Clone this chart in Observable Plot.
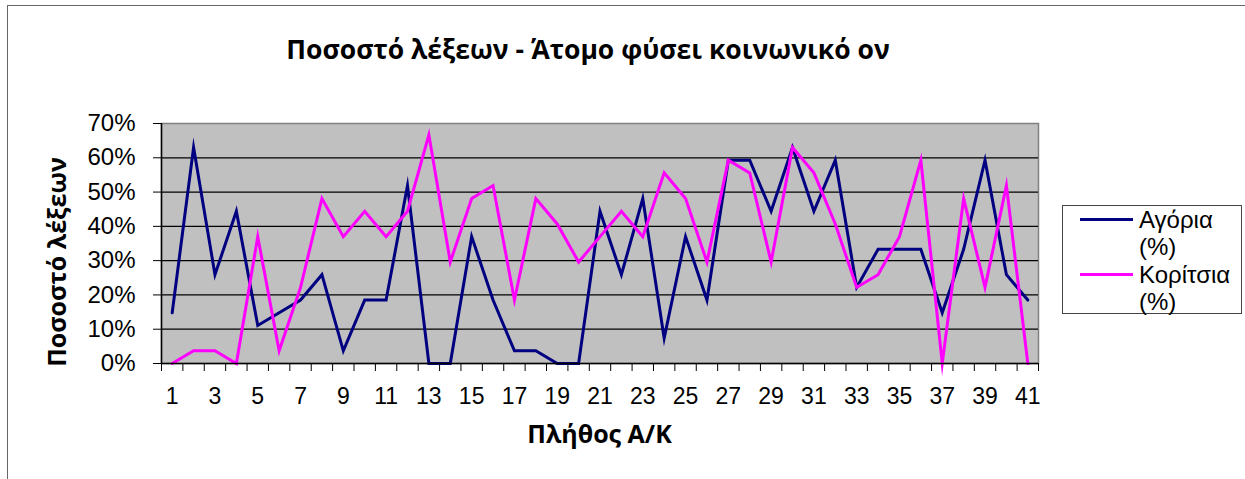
<!DOCTYPE html>
<html>
<head>
<meta charset="utf-8">
<script src="https://cdn.jsdelivr.net/npm/d3@7"></script>
<script src="https://cdn.jsdelivr.net/npm/@observablehq/plot@0.6"></script>
<style>
  html, body { margin: 0; padding: 0; background: #fff; }
  body { width: 1245px; height: 479px; position: relative; overflow: hidden; font-family: "Liberation Sans", Arial, sans-serif; }
  #border { position: absolute; left: 7px; top: 5px; width: 1300px; height: 600px; border-left: 1px solid #666; border-top: 1px solid #666; }
  #chart { position: absolute; left: 0; top: 0; }
  .title { position: absolute; font-family: "Open Sans", "Liberation Sans", sans-serif; font-weight: bold; white-space: nowrap; color: #000; }
  #title { left: 0; width: 1176px; text-align: center; top: 36px; font-size: 26.5px; line-height: 26.5px; }
  #xlabel { left: 161px; width: 877px; text-align: center; top: 421px; font-size: 25px; line-height: 25px; }
  #ylabel { left: 56px; top: 262px; font-size: 25px; line-height: 25px; transform: translate(-50%, -50%) rotate(-90deg); }
  #legend { position: absolute; left: 1062px; top: 205px; width: 180px; height: 109px; border: 1px solid #444; box-sizing: border-box; font-size: 24px; }
  .lg { position: absolute; left: 76px; line-height: 27px; white-space: nowrap; }
  .sw { position: absolute; left: 17px; width: 53px; height: 3px; }
</style>
</head>
<body>
<div id="border"></div>
<div id="chart"></div>
<div id="title" class="title">Ποσοστό λέξεων - Άτομο φύσει κοινωνικό ον</div>
<div id="xlabel" class="title">Πλήθος Α/Κ</div>
<div id="ylabel" class="title">Ποσοστό λέξεων</div>
<div id="legend"></div>
<script>
const categories = [1,2,3,4,5,6,7,8,9,10,11,12,13,14,15,16,17,18,19,20,21,22,23,24,25,26,27,28,29,30,31,32,33,34,35,36,37,38,39,40,41];
const boys = [14.8, 63.0, 25.9, 44.4, 11.1, 14.8, 18.5, 25.9, 3.7, 18.5, 18.5, 51.9, 0, 0, 37.0, 18.5, 3.7, 3.7, 0, 0, 44.4, 25.9, 48.1, 7.4, 37.0, 18.5, 59.3, 59.3, 44.4, 63.0, 44.4, 59.3, 22.2, 33.3, 33.3, 33.3, 14.8, 33.3, 59.3, 25.9, 18.5];
const girls = [0, 3.7, 3.7, 0, 37.0, 3.7, 22.2, 48.1, 37.0, 44.4, 37.0, 44.4, 66.7, 29.6, 48.1, 51.9, 18.5, 48.1, 40.7, 29.6, 37.0, 44.4, 37.0, 55.6, 48.1, 29.6, 59.3, 55.6, 29.6, 63.0, 55.6, 40.7, 22.2, 25.9, 37.0, 59.3, 0, 48.1, 22.2, 51.9, 0];
const seriesNames = ["Αγόρια (%)", "Κορίτσια (%)"];
const legendRows = [["Αγόρια", "(%)"], ["Κορίτσια", "(%)"]];
const seriesColors = ["#000080", "#FF00FF"];
const yTicks = [0, 10, 20, 30, 40, 50, 60, 70];
const xLabelTicks = categories.filter(c => c % 2 === 1);

const data = [];
categories.forEach((c, i) => {
  data.push({x: c, y: boys[i], s: seriesNames[0]});
  data.push({x: c, y: girls[i], s: seriesNames[1]});
});
const bandEdges = [...categories.map(c => c - 0.5), categories[categories.length - 1] + 0.5];

const chart = Plot.plot({
  width: 1245,
  height: 479,
  marginLeft: 161,
  marginRight: 207,
  marginTop: 123,
  marginBottom: 116,
  style: {fontFamily: "'Liberation Sans', Arial, sans-serif", fontSize: "24px", background: "transparent"},
  x: {type: "linear", domain: [0.5, 41.5]},
  y: {domain: [0, 70]},
  color: {domain: seriesNames, range: seriesColors},
  marks: [
    Plot.frame({fill: "#C0C0C0", stroke: "#808080", strokeWidth: 1.5}),
    Plot.ruleY(yTicks.slice(1, -1), {stroke: "#000", strokeWidth: 1.2}),
    Plot.axisY({ticks: yTicks, tickFormat: d => d + "%", tickSize: 8, tickPadding: 18, stroke: "#000", label: null, fontSize: 24}),
    Plot.axisX({ticks: bandEdges, tickFormat: () => "", tickSize: 8, stroke: "#000", label: null}),
    Plot.axisX({ticks: xLabelTicks, tickFormat: d => String(d), tickSize: 0, tickPadding: 24, label: null, fontSize: 23}),
    Plot.line(data, {x: "x", y: "y", z: "s", stroke: "s", strokeWidth: 3, strokeLinejoin: "miter", strokeMiterlimit: 10}),
    Plot.ruleX([0.5], {stroke: "#000", strokeWidth: 1.5}),
    Plot.ruleY([0], {stroke: "#000", strokeWidth: 1.5})
  ]
});
document.getElementById("chart").appendChild(chart);

const legend = document.getElementById("legend");
legendRows.forEach((r, i) => {
  const top = i * 55;
  const sw = document.createElement("div");
  sw.className = "sw";
  sw.style.top = (top + 12) + "px";
  sw.style.background = seriesColors[i];
  legend.appendChild(sw);
  const t1 = document.createElement("div");
  t1.className = "lg"; t1.style.top = top + "px"; t1.textContent = r[0];
  legend.appendChild(t1);
  const t2 = document.createElement("div");
  t2.className = "lg"; t2.style.top = (top + 27) + "px"; t2.textContent = r[1];
  legend.appendChild(t2);
});
</script>
</body>
</html>
